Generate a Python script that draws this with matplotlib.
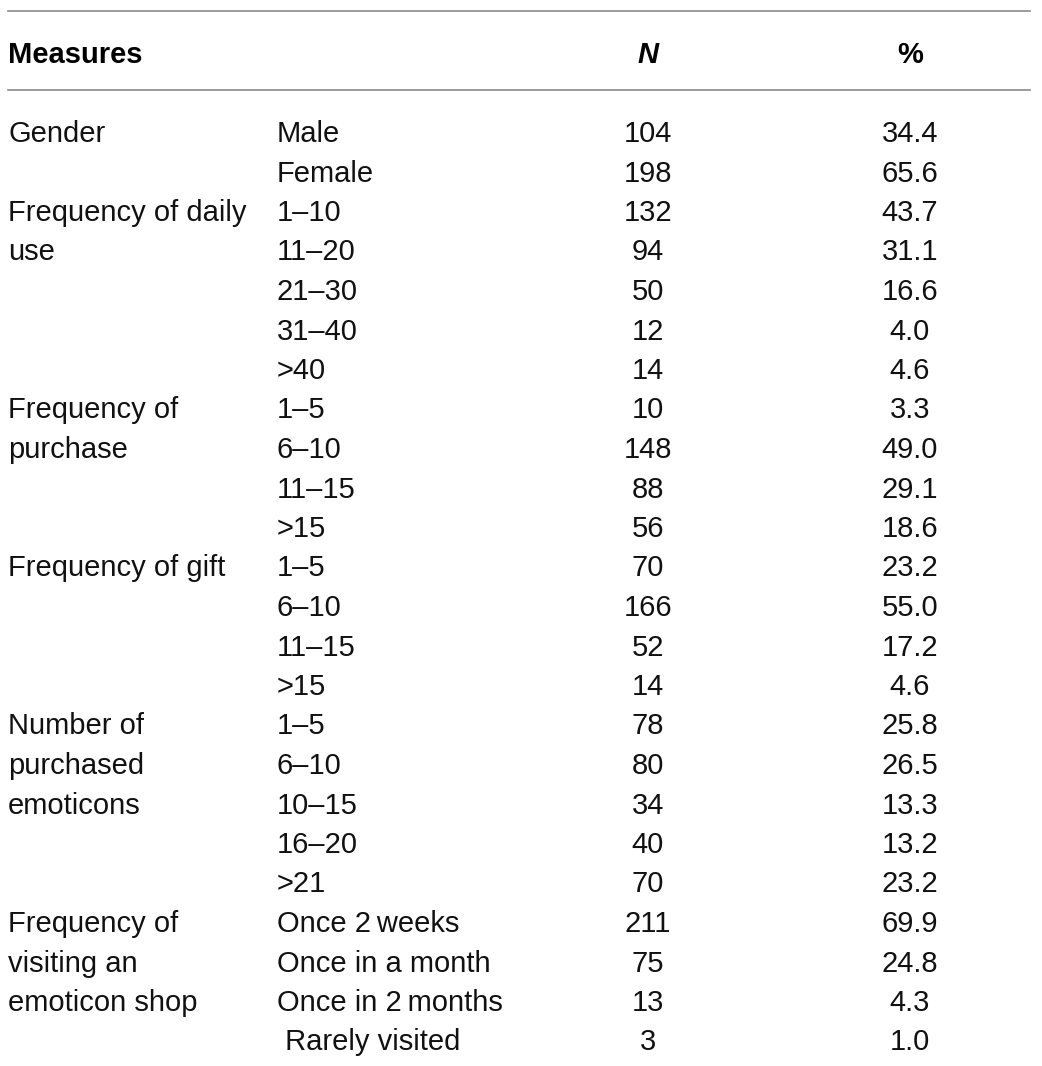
import matplotlib.pyplot as plt

# table contents
groups = ["Gender", "Frequency of daily\nuse", "Frequency of\npurchase",
          "Frequency of gift", "Number of\npurchased\nemoticons",
          "Frequency of\nvisiting an\nemoticon shop"]
group_sizes = [2, 5, 4, 4, 5, 4]
levels = ["Male", "Female",
          "1\u201310", "11\u201320", "21\u201330", "31\u201340", ">40",
          "1\u20135", "6\u201310", "11\u201315", ">15",
          "1\u20135", "6\u201310", "11\u201315", ">15",
          "1\u20135", "6\u201310", "10\u201315", "16\u201320", ">21",
          "Once 2\u2009weeks", "Once in a month", "Once in 2\u2009months", " Rarely visited"]
n_vals = [104, 198, 132, 94, 50, 12, 14, 10, 148, 88, 56, 70, 166, 52, 14,
          78, 80, 34, 40, 70, 211, 75, 13, 3]
pct_vals = [34.4, 65.6, 43.7, 31.1, 16.6, 4.0, 4.6, 3.3, 49.0, 29.1, 18.6,
            23.2, 55.0, 17.2, 4.6, 25.8, 26.5, 13.3, 13.2, 23.2, 69.9, 24.8,
            4.3, 1.0]

W, H = 1042, 1066
fig = plt.figure(figsize=(W / 100, H / 100), dpi=100)
ax = fig.add_axes([0, 0, 1, 1])
ax.set_xlim(0, W)
ax.set_ylim(H, 0)
ax.axis("off")

font = "Liberation Sans"
fs = 21
x_group, x_level, x_n, x_pct = 8, 277, 648, 910
y_first, step = 134, 39.5
line_col = "#8a8a8a"

ax.plot([8, 1030], [11, 11], color=line_col, lw=1.2)
ax.plot([8, 1030], [90, 90], color=line_col, lw=1.2)

ax.text(x_group, 55, "Measures", fontsize=fs, fontweight="bold", family=font,
        ha="left", va="center")
ax.text(x_n, 55, "N", fontsize=fs, fontweight="bold", fontstyle="italic",
        family=font, ha="center", va="center")
ax.text(x_pct, 55, "%", fontsize=fs, fontweight="bold", family=font,
        ha="center", va="center")

row = 0
for g, size in zip(groups, group_sizes):
    for k, line in enumerate(g.split("\n")):
        ax.text(x_group, y_first + (row + k) * step, line, fontsize=fs,
                family=[font, "DejaVu Sans"], ha="left", va="center", color="#111111")
    row += size

for i in range(len(levels)):
    y = y_first + i * step
    ax.text(x_level, y, levels[i], fontsize=fs, family=[font, "DejaVu Sans"],
            ha="left", va="center", color="#111111")
    ax.text(x_n, y, str(n_vals[i]), fontsize=fs, family=font,
            ha="center", va="center", color="#111111")
    ax.text(x_pct, y, "%.1f" % pct_vals[i], fontsize=fs, family=font,
            ha="center", va="center", color="#111111")

fig.savefig("out.png", dpi=100)
